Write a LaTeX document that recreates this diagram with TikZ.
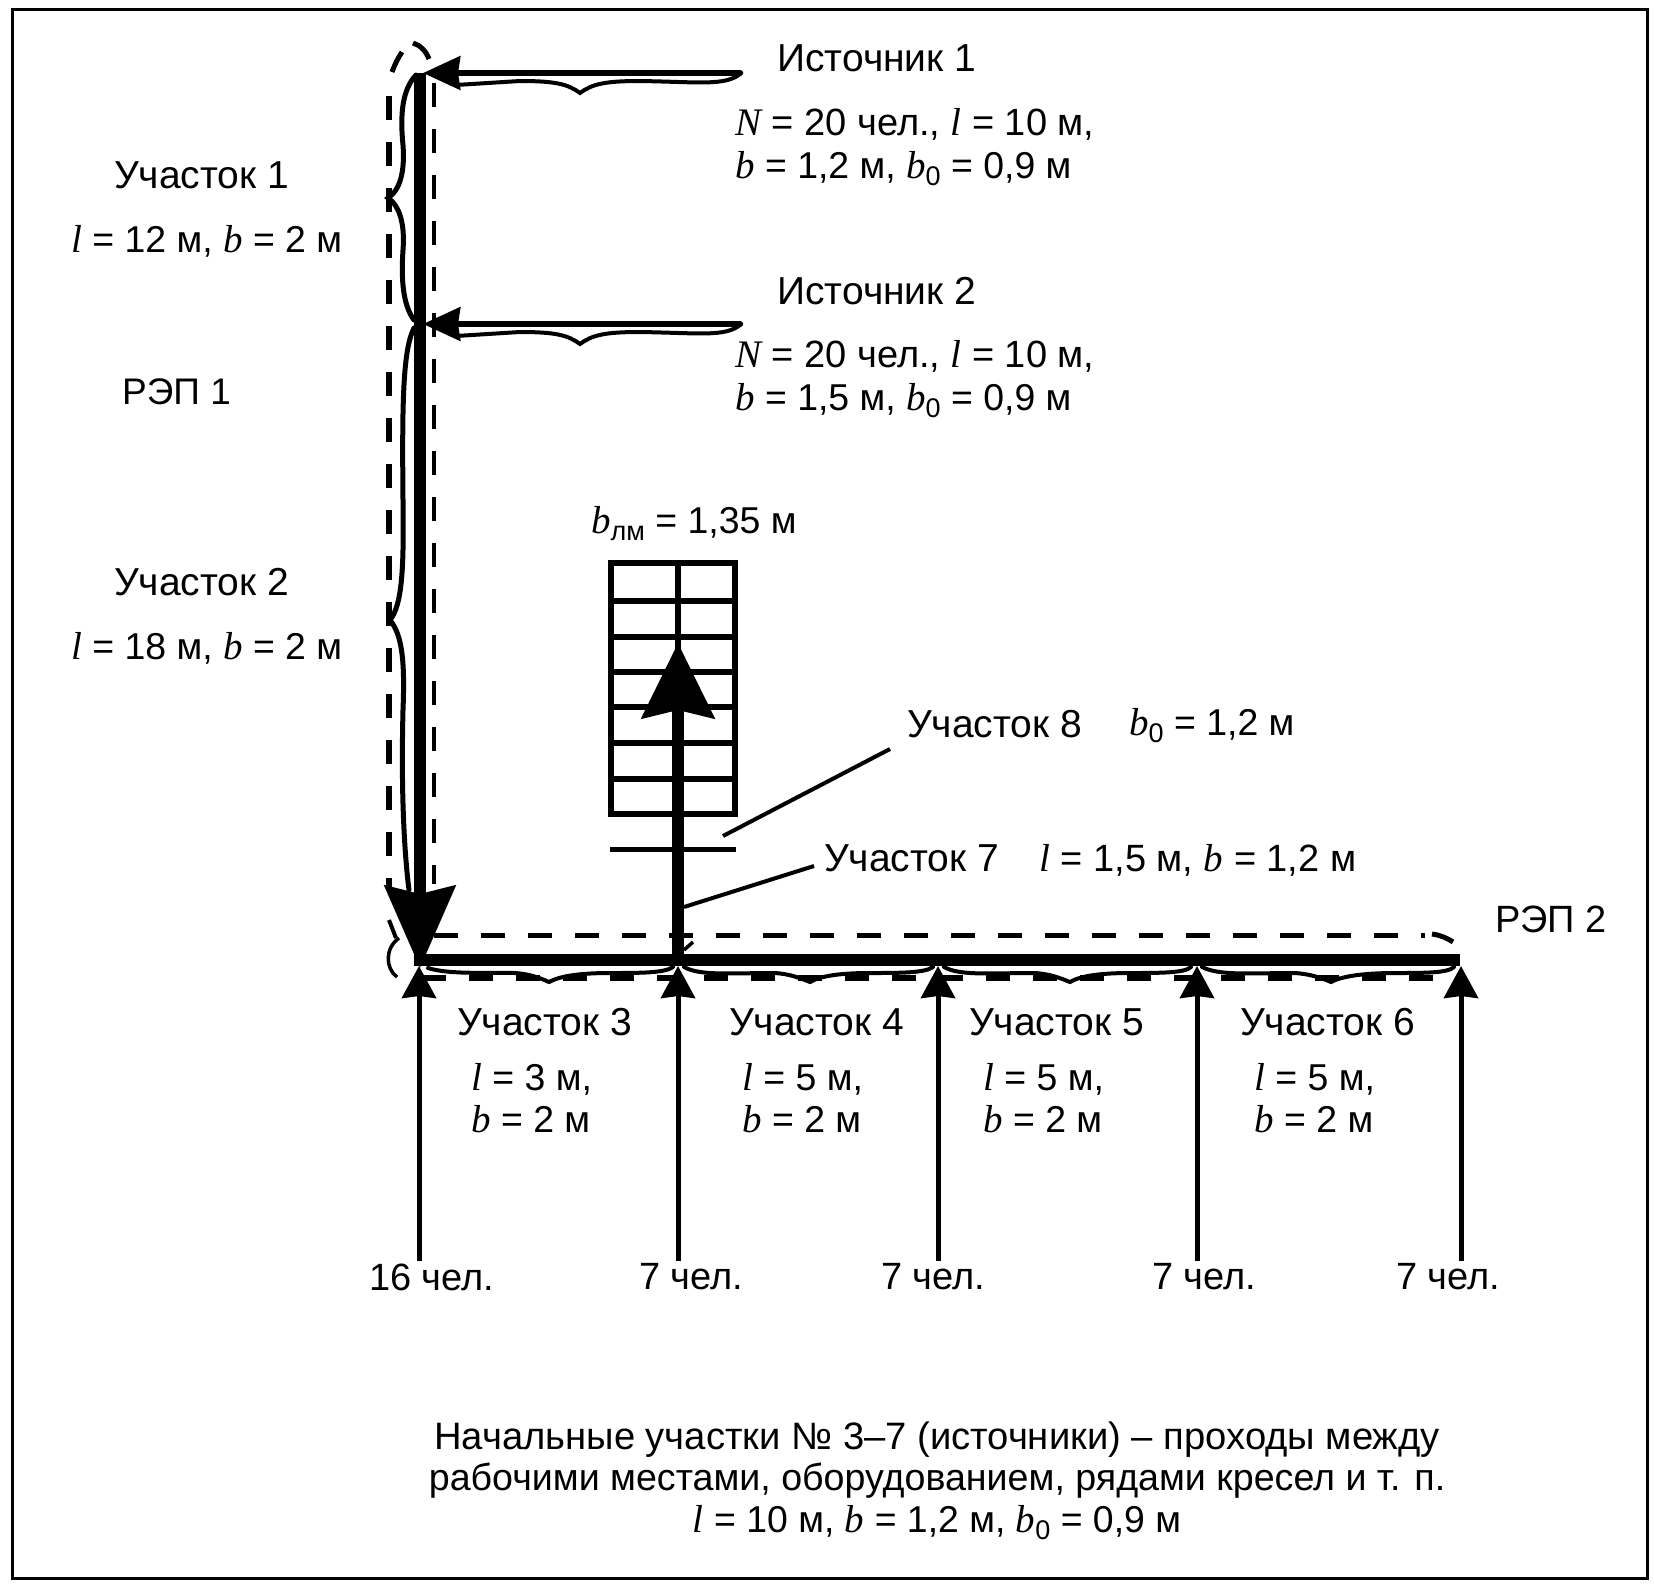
\documentclass[tikz,border=0pt]{standalone}
\usepackage{fontspec}
\setmainfont{Liberation Sans}
\newfontfamily\serifitalic{Liberation Serif Italic}
\usetikzlibrary{arrows.meta}
\newcommand{\vv}[1]{{\serifitalic\fontsize{39}{44}\selectfont #1}}
\newcommand{\subs}[1]{\raisebox{-7pt}{\fontsize{27}{27}\selectfont #1}}
\tikzset{
  lbl/.style={anchor=west,inner sep=0pt,font=\fontsize{38}{44}\selectfont},
  hd/.style={anchor=west,inner sep=0pt,font=\fontsize{39}{44}\selectfont},
  mth/.style={anchor=west,inner sep=0pt,font=\fontsize{37.4}{44}\selectfont},
  ctr/.style={anchor=center,inner sep=0pt,font=\fontsize{38}{44}\selectfont},
  mainline/.style={line width=11.5pt,line cap=butt},
  srcline/.style={line width=6.5pt,line cap=round},
  upline/.style={line width=5pt},
  bracecurve/.style={line width=4pt,line cap=round},
  dashleft/.style={line width=6pt,dash pattern=on 24pt off 22pt},
  dashright/.style={line width=4.5pt,dash pattern=on 24pt off 22pt},
  dashh/.style={line width=5pt,dash pattern=on 24pt off 23pt},
  stairline/.style={line width=5.5pt},
  leader/.style={line width=4pt},
  bighead/.style={-{Stealth[length=82pt,width=70pt,inset=8pt]}},
  srchead/.style={-{Stealth[length=37pt,width=33pt,inset=2pt]}},
  uphead/.style={-{Stealth[length=32pt,width=34pt,inset=2pt]}},
  stairhead/.style={-{Stealth[length=75pt,width=72pt,inset=8pt]}},
}
\begin{document}
\begin{tikzpicture}[x=1pt,y=-1pt]
\useasboundingbox (0,0) rectangle (1654,1585);
\fill[white] (0,0) rectangle (1654,1585);
\node[draw,line width=3pt,inner sep=0pt,minimum width=1635pt,minimum height=1569pt,anchor=north west] (frame) at (11,8) {};

% named points
\coordinate (top) at (420,73);
\coordinate (j3) at (420,968);
\coordinate (src1) at (740,73);
\coordinate (src2) at (740,324);
\coordinate (hstart) at (414,960);
\coordinate (hend) at (1460,960);
\coordinate (stairbase) at (678,960);
\coordinate (stairtip) at (678,643);
\coordinate (a1) at (419,966);
\coordinate (a2) at (678,966);
\coordinate (a3) at (938,966);
\coordinate (a4) at (1197,966);
\coordinate (a5) at (1461,966);

% stair
\draw[stairline] (611,563) rectangle (735,814);
\foreach \yy in {601,637,672,707,743,779} \draw[stairline] (611,\yy) -- (735,\yy);
\draw[stairline] (678,563) -- (678,650);
\draw[stairline,line width=5pt] (610,849) -- (736,849);

% dashed outlines
\draw[dashleft] (389,96) -- (389,890);
\draw[dashright] (434,83) -- (434,884);
\draw[line width=5pt] (392,72) .. controls (395,64) and (398,58) .. (402,52);
\draw[line width=5pt] (413,43) .. controls (420,45) and (426,51) .. (429,59);
\draw[line width=4pt] (389,920) -- (396,938);
\draw[line width=3.5pt] (399,938) .. controls (385,948) and (385,968) .. (397,977);
\draw[dashh] (434,935) -- (1425,935);
\draw[line width=5pt] (1432,934) .. controls (1440,935) and (1447,938) .. (1453,942);
\draw[dashh,line width=6pt] (422,978) -- (1440,978);

% source arrows
\draw[srcline,srchead] (src1) -- (423,73);
\draw[srcline,srchead] (src2) -- (423,324);
\draw[bracecurve] (740,74) .. controls (725,86) and (700,82) .. (640,81) .. controls (605,81) and (592,84) .. (580,93) .. controls (568,84) and (555,81) .. (520,81) -- (456,85);
\draw[bracecurve] (740,325) .. controls (725,337) and (700,333) .. (640,332) .. controls (605,332) and (592,335) .. (580,344) .. controls (568,335) and (555,332) .. (520,332) -- (456,336);

% left braces
\draw[bracecurve,line width=5pt] (416,75) .. controls (402,90) and (400,115) .. (403,145) .. controls (405,172) and (400,190) .. (388,198) .. controls (400,206) and (405,225) .. (403,250) .. controls (401,280) and (403,305) .. (414,320);
\draw[bracecurve,line width=5pt] (414,328) .. controls (403,350) and (402,400) .. (403,500) .. controls (404,570) and (402,605) .. (390,620) .. controls (402,635) and (405,660) .. (403,710) .. controls (401,790) and (404,850) .. (409,890);

% main lines
\draw[mainline,bighead] (top) -- (j3);
\draw[mainline,line width=12pt] (hstart) -- (hend);
\draw[mainline,stairhead] (stairbase) -- (stairtip);

% lower braces
\draw[bracecurve] (428,968) .. controls (450,975) and (490,972) .. (515,973) .. controls (530,974) and (540,978) .. (549,982) .. controls (560,976) and (580,973) .. (610,973) .. controls (640,973) and (665,973) .. (673,967);
\draw[bracecurve] (684,967) .. controls (700,976) and (730,973) .. (775,973) .. controls (790,974) and (800,978) .. (810,982) .. controls (820,976) and (840,973) .. (870,973) .. controls (900,973) and (925,973) .. (933,967);
\draw[bracecurve] (944,967) .. controls (960,976) and (990,973) .. (1035,973) .. controls (1050,974) and (1060,978) .. (1070,982) .. controls (1080,976) and (1100,973) .. (1130,973) .. controls (1160,973) and (1185,973) .. (1191,967);
\draw[bracecurve] (1202,967) .. controls (1220,976) and (1250,973) .. (1295,973) .. controls (1310,974) and (1322,978) .. (1331,982) .. controls (1342,976) and (1365,973) .. (1395,973) .. controls (1425,973) and (1448,973) .. (1454,967);
\draw[line width=3.5pt] (684,950) -- (693,942);

% up arrows
\coordinate (p1) at (419,1261);
\coordinate (p2) at (678,1261);
\coordinate (p3) at (938,1261);
\coordinate (p4) at (1197,1261);
\coordinate (p5) at (1461,1261);
\draw[upline,uphead] (p1) -- (a1);
\draw[upline,uphead] (p2) -- (a2);
\draw[upline,uphead] (p3) -- (a3);
\draw[upline,uphead] (p4) -- (a4);
\draw[upline,uphead] (p5) -- (a5);

% texts
\node[hd] (s1) at (777,58) {Источник 1};
\node[lbl] (s1a) at (735,124) {\vv{N} = 20 чел., \vv{l} = 10 м,};
\node[mth] (s1b) at (735,169) {\vv{b} = 1,2 м, \vv{b}\subs{0} = 0,9 м};
\node[hd] (s2) at (777,291) {Источник 2};
\node[lbl] (s2a) at (735,356) {\vv{N} = 20 чел., \vv{l} = 10 м,};
\node[mth] (s2b) at (735,401) {\vv{b} = 1,5 м, \vv{b}\subs{0} = 0,9 м};
\node[hd] (u1) at (114,175) {Участок 1};
\node[mth] (u1a) at (71,241) {\vv{l} = 12 м, \vv{b} = 2 м};
\node[lbl,font=\fontsize{37}{44}\selectfont] (r1) at (122,392) {РЭП 1};
\node[hd] (u2) at (114,582) {Участок 2};
\node[mth] (u2a) at (71,648) {\vv{l} = 18 м, \vv{b} = 2 м};
\node[mth] (bl) at (591,524) {\vv{b}\subs{лм} = 1,35 м};
\node[hd] (u8) at (907,724) {Участок 8};
\node[mth] (u8a) at (1129,726) {\vv{b}\subs{0} = 1,2 м};
\node[hd] (u7) at (824,858) {Участок 7};
\node[lbl] (u7a) at (1039,860) {\vv{l} = 1,5 м, \vv{b} = 1,2 м};
\node[lbl] (r2) at (1495,919) {РЭП 2};
\node[hd] (u3) at (457,1022) {Участок 3};
\node[hd] (u4) at (729,1022) {Участок 4};
\node[hd] (u5) at (969,1022) {Участок 5};
\node[hd] (u6) at (1240,1022) {Участок 6};
\node[mth] (u3a) at (471,1079) {\vv{l} = 3 м,};
\node[mth] (u3b) at (471,1119) {\vv{b} = 2 м};
\node[mth] (u4a) at (742,1079) {\vv{l} = 5 м,};
\node[mth] (u4b) at (742,1119) {\vv{b} = 2 м};
\node[mth] (u5a) at (983,1079) {\vv{l} = 5 м,};
\node[mth] (u5b) at (983,1119) {\vv{b} = 2 м};
\node[mth] (u6a) at (1254,1079) {\vv{l} = 5 м,};
\node[mth] (u6b) at (1254,1119) {\vv{b} = 2 м};
\node[lbl] (c1) at (369,1277) {16 чел.};
\node[lbl] (c2) at (639,1277) {7 чел.};
\node[lbl] (c3) at (881,1277) {7 чел.};
\node[lbl] (c4) at (1152,1277) {7 чел.};
\node[lbl] (c5) at (1396,1277) {7 чел.};
\node[ctr,font=\fontsize{38.2}{44}\selectfont] (f1) at (937,1440) {Начальные участки № 3–7 (источники) – проходы между};
\node[ctr,font=\fontsize{37.6}{44}\selectfont] (f2) at (937,1481) {рабочими местами, оборудованием, рядами кресел и т. п.};
\node[ctr,font=\fontsize{37.4}{44}\selectfont] (f3) at (937,1523) {\vv{l} = 10 м, \vv{b} = 1,2 м, \vv{b}\subs{0} = 0,9 м};

% leaders
\draw[leader] (723,836) -- (890,749);
\draw[leader] (684,907) -- (814,866);
\end{tikzpicture}
\end{document}
